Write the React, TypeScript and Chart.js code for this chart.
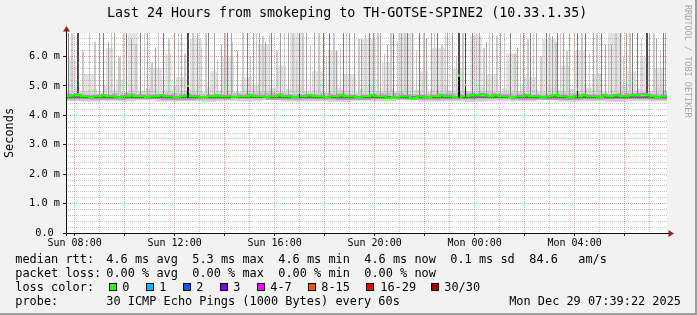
import { useEffect, useRef } from "react";
import { Chart, registerables } from "chart.js";

Chart.register(...registerables);

// ---- time axis: one sample column = 2.4 min, column 0 = Sun 07:39:22 ----
const START_MIN = 459.37;
const STEP_MIN = 2.4;
const X_MAX = 601;
const Y_MAX = 6.8;
const BASE = 4.64;

const hourTicks = [8, 9, 10, 11, 12, 13, 14, 15, 16, 17, 18, 19, 20, 21, 22, 23, 24, 25, 26, 27, 28, 29, 30, 31];
const labelHours = [8, 12, 16, 20, 24, 28];
const xLabels = ["Sun 08:00", "Sun 12:00", "Sun 16:00", "Sun 20:00", "Mon 00:00", "Mon 04:00"];
const yLabelValues = [0, 1, 2, 3, 4, 5, 6];
const yLabels = ["0.0 ", "1.0 m", "2.0 m", "3.0 m", "4.0 m", "5.0 m", "6.0 m"];
const yMinorStep = 0.2;
const yMinorCount = 34;

const chartTitle = "Last 24 Hours from smokeping to TH-GOTSE-SPINE2 (10.33.1.35)";
const rttStats = ["4.6 ms avg", "5.3 ms max", "4.6 ms min", "4.6 ms now", "0.1 ms sd", "84.6", "am/s"];
const lossStats = ["0.00 % avg", "0.00 % max", "0.00 % min", "0.00 % now"];
const lossColors: [string, string][] = [
  ["0", "#26ff00"], ["1", "#00b8ff"], ["2", "#0059ff"], ["3", "#7e00ff"],
  ["4-7", "#ff00ff"], ["8-15", "#ff5500"], ["16-29", "#ff0000"], ["30/30", "#a10000"],
];
const probeText = "30 ICMP Echo Pings (1000 Bytes) every 60s";
const stampText = "Mon Dec 29 07:39:22 2025";

// ---- smoke (ms): [startColumn, widthColumns, top] ----
const darkestSpikes: [number, number, number][] = [
  [11, 2, 7], [121, 2, 7], [392, 2, 7], [399, 1, 7], [580, 2, 7],
];
const darkSpikes: [number, number, number][] = [
  [2, 1, 7], [37, 1, 7], [60, 1, 7], [74, 1, 7], [97, 1, 7],
  [142, 1, 7], [161, 1, 7], [181, 1, 7], [205, 1, 7], [233, 1, 7],
  [257, 1, 7], [263, 1, 7], [277, 1, 7], [303, 1, 7], [327, 1, 7], [341, 1, 7], [353, 1, 7],
  [371, 1, 7], [406, 1, 7], [444, 1, 7], [464, 1, 7],
  [480, 1, 7], [491, 1, 7], [511, 1, 7], [519, 1, 7], [535, 1, 7], [554, 1, 7],
  [566, 1, 7], [571, 1, 7], [597, 1, 7],
];
const midSpikes: [number, number, number][] = [
  [33, 1, 7], [42, 1, 6.5], [48, 1, 7], [65, 1, 6.6], [81, 1, 7], [89, 1, 6.3], [108, 1, 7], [115, 1, 6.8],
  [131, 1, 7], [148, 1, 7], [155, 1, 6.4], [165, 1, 7], [171, 1, 6.2], [187, 1, 7], [193, 1, 7], [199, 1, 6.5], [214, 1, 7],
  [222, 1, 6.9], [240, 1, 7], [248, 1, 7], [270, 1, 6.2], [283, 1, 7], [288, 1, 7], [295, 1, 6.6],
  [307, 1, 7], [314, 1, 7], [321, 1, 6.4], [335, 1, 7], [346, 1, 7], [360, 1, 6.6], [365, 1, 6.8], [381, 1, 7],
  [386, 1, 7], [413, 1, 7], [420, 1, 6.5], [426, 1, 7], [434, 1, 7], [451, 1, 6.3], [457, 1, 7],
  [470, 1, 7], [486, 1, 6.7], [497, 1, 7], [503, 1, 7], [527, 1, 7], [539, 1, 6.4], [545, 1, 6.4], [560, 1, 7],
  [583, 1, 7], [590, 1, 6.6], [599, 1, 7],
];
const lightSpikes: [number, number, number][] = [
  [5, 2, 7], [16, 2, 6.2], [23, 1, 7], [28, 2, 6.5], [45, 1, 7], [52, 3, 6.0], [57, 1, 7], [69, 2, 6.4],
  [78, 1, 7], [85, 2, 5.8], [92, 1, 7], [102, 2, 6.6], [112, 1, 7], [118, 2, 6.1], [126, 2, 7],
  [135, 1, 6.3], [139, 2, 7], [151, 1, 5.9], [158, 2, 7], [166, 1, 6.5], [176, 2, 7], [184, 1, 6.0],
  [190, 1, 7], [196, 2, 6.7], [203, 1, 7], [210, 2, 6.2], [218, 1, 7], [226, 2, 6.8], [230, 1, 5.9],
  [236, 2, 7], [244, 1, 6.4], [252, 2, 7], [260, 1, 6.0], [267, 2, 7], [274, 1, 6.3], [280, 1, 7],
  [292, 2, 6.6], [299, 1, 7], [311, 2, 7], [318, 1, 6.1], [324, 2, 7], [331, 1, 6.5], [338, 2, 7],
  [350, 1, 6.2], [357, 2, 7], [368, 1, 7], [375, 2, 6.4], [379, 1, 7], [390, 1, 6.0], [396, 2, 7],
  [410, 1, 7], [417, 2, 6.3], [423, 1, 7], [430, 2, 6.7], [438, 1, 7], [448, 2, 6.1], [454, 1, 7],
  [461, 2, 6.6], [467, 1, 7], [474, 2, 6.0], [483, 1, 7], [489, 2, 6.5], [494, 1, 7], [500, 2, 6.2],
  [508, 1, 7], [515, 2, 6.8], [523, 1, 6.1], [530, 2, 7], [542, 1, 6.4], [549, 2, 7], [557, 1, 6.0],
  [563, 2, 7], [575, 1, 6.6], [587, 2, 7], [594, 1, 6.2],
];
const clouds: [number, number, number][] = [
  [3, 7, 5.9], [18, 12, 5.4], [40, 7, 6.3], [50, 8, 5.2], [62, 10, 6.8], [84, 12, 5.6], [99, 7, 6.1],
  [110, 10, 5.3], [124, 12, 6.6], [144, 8, 5.5], [156, 12, 6.0], [175, 11, 5.3], [192, 12, 6.4],
  [212, 8, 5.7], [224, 14, 6.8], [246, 12, 5.5], [262, 10, 6.2], [278, 12, 5.4], [296, 14, 6.6],
  [316, 10, 5.8], [332, 16, 6.9], [354, 8, 5.5], [366, 14, 6.3], [386, 12, 5.6], [404, 12, 6.7],
  [420, 12, 5.4], [440, 12, 6.1], [458, 12, 5.3], [476, 14, 6.6], [494, 10, 5.7], [508, 12, 6.2],
  [526, 10, 5.4], [542, 14, 6.8], [560, 10, 5.5], [574, 10, 6.0], [588, 10, 5.6],
];
const blackSpikes: [number, number, number][] = [
  [121, 2, 5.0], [233, 1, 4.77], [392, 2, 5.35], [399, 1, 5.03], [511, 1, 4.86],
];

// ---- step series: [column, value] ----
const lowCloudTop: [number, number][] = [
  [0, 4.85], [8, 4.95], [14, 4.82], [22, 4.9], [31, 4.78], [38, 5.0], [46, 4.86], [55, 4.8], [63, 4.97],
  [72, 4.84], [80, 4.92], [90, 4.8], [98, 4.88], [107, 5.02], [114, 4.83], [123, 4.9], [132, 4.79],
  [140, 4.95], [150, 4.85], [160, 4.9], [168, 4.8], [177, 4.87], [186, 5.0], [194, 4.84], [203, 4.93],
  [212, 4.81], [220, 4.9], [230, 4.96], [238, 4.83], [247, 4.89], [256, 4.8], [265, 4.94], [274, 4.86],
  [283, 4.78], [292, 4.9], [301, 4.98], [310, 4.84], [319, 4.91], [328, 4.8], [337, 4.95], [346, 4.87],
  [355, 4.79], [364, 4.9], [373, 4.99], [382, 4.85], [391, 4.92], [400, 4.82], [409, 4.96], [418, 4.86],
  [427, 4.8], [436, 4.92], [445, 4.84], [454, 4.97], [463, 4.88], [472, 4.8], [481, 4.93], [490, 4.85],
  [499, 4.9], [508, 4.8], [517, 4.94], [526, 4.86], [535, 4.79], [544, 4.91], [553, 4.99], [562, 4.84],
  [571, 4.9], [580, 4.82], [589, 4.95], [598, 4.85],
];
const upperBandTop: [number, number][] = [
  [0, 4.74], [20, 4.72], [45, 4.76], [70, 4.73], [100, 4.75], [130, 4.72], [160, 4.74], [190, 4.77],
  [220, 4.73], [250, 4.75], [280, 4.72], [310, 4.76], [340, 4.73], [370, 4.75], [400, 4.78], [430, 4.74],
  [460, 4.72], [490, 4.75], [520, 4.73], [550, 4.77], [580, 4.74],
];
const lowerLightBottom: [number, number][] = [
  [0, 4.49], [15, 4.47], [35, 4.5], [52, 4.48], [70, 4.51], [90, 4.47], [112, 4.49], [135, 4.46],
  [150, 4.5], [172, 4.48], [195, 4.51], [215, 4.47], [240, 4.49], [262, 4.46], [285, 4.5], [305, 4.48],
  [330, 4.51], [352, 4.47], [375, 4.49], [398, 4.46], [420, 4.5], [445, 4.48], [470, 4.51], [492, 4.47],
  [515, 4.49], [540, 4.46], [560, 4.5], [585, 4.48],
];
const lowerMidBottom: [number, number][] = [
  [0, 4.55], [25, 4.54], [60, 4.56], [95, 4.53], [130, 4.55], [165, 4.57], [200, 4.54], [235, 4.55],
  [270, 4.53], [305, 4.56], [340, 4.54], [375, 4.55], [410, 4.57], [445, 4.54], [480, 4.53], [515, 4.55],
  [550, 4.56], [585, 4.54],
];
const coreBottom: [number, number][] = [[0, 4.595]];
const medianSteps: [number, number][] = [
  [0, 4.66], [5, 4.69], [9, 4.725], [12, 4.69], [15, 4.66], [23, 4.625], [27, 4.66], [36, 4.69], [40, 4.66],
  [49, 4.625], [55, 4.66], [64, 4.69], [68, 4.66], [79, 4.625], [84, 4.66], [93, 4.69], [98, 4.66],
  [108, 4.625], [114, 4.66], [119, 4.69], [124, 4.66], [133, 4.625], [141, 4.66], [150, 4.69], [153, 4.66],
  [166, 4.625], [172, 4.66], [183, 4.69], [187, 4.66], [198, 4.625], [203, 4.66], [211, 4.69], [216, 4.66],
  [226, 4.625], [232, 4.66], [241, 4.69], [246, 4.66], [258, 4.625], [264, 4.66], [273, 4.69], [278, 4.66],
  [289, 4.625], [296, 4.66], [304, 4.69], [309, 4.66], [320, 4.59], [326, 4.625], [334, 4.66], [344, 4.59],
  [351, 4.66], [358, 4.625], [365, 4.66], [374, 4.69], [378, 4.66], [387, 4.625], [395, 4.66], [403, 4.69],
  [414, 4.725], [419, 4.69], [422, 4.66], [427, 4.69], [433, 4.66], [444, 4.625], [450, 4.66], [458, 4.69],
  [463, 4.66], [474, 4.625], [480, 4.66], [486, 4.69], [492, 4.66], [501, 4.625], [508, 4.66], [516, 4.69],
  [521, 4.66], [532, 4.625], [537, 4.69], [541, 4.66], [547, 4.69], [554, 4.66], [562, 4.69], [574, 4.725],
  [581, 4.69], [585, 4.66], [590, 4.625], [595, 4.66],
];

type Pt = { x: number; y: number | null };

function spikeArea(segs: [number, number, number][], base: number): Pt[] {
  const pts: Pt[] = [{ x: 0, y: base }];
  [...segs].sort((a, b) => a[0] - b[0]).forEach(([s, w, top]) => {
    pts.push({ x: s, y: top });
    pts.push({ x: s + w, y: base });
  });
  pts.push({ x: X_MAX, y: base });
  return pts;
}
function stepLine(steps: [number, number][]): Pt[] {
  const pts: Pt[] = steps.map(([x, y]) => ({ x, y }));
  pts.push({ x: X_MAX, y: steps[steps.length - 1][1] });
  return pts;
}
function dots(segs: [number, number, number][]): Pt[] {
  const pts: Pt[] = [];
  segs.forEach(([s, w, v]) => {
    pts.push({ x: s, y: v }, { x: s + w, y: v }, { x: s + w, y: null });
  });
  return pts;
}
function area(label: string, data: Pt[], color: string, order: number, base = BASE) {
  return {
    label, data, order, backgroundColor: color, borderColor: color, borderWidth: 0,
    pointRadius: 0, stepped: true, fill: { value: base },
  };
}

const slotHour = (v: number) => Math.round((START_MIN + v * STEP_MIN) / 60);
const isIntY = (v: number) => Math.abs(v - Math.round(v)) < 1e-6;

const GRID_RED = "rgba(222,80,80,0.55)";
const GRID_GRAY = "rgba(143,143,143,0.55)";
const MONO = '"DejaVu Sans Mono", monospace';

const rrdPlugin = {
  id: "rrdFrame",
  beforeDraw(chart: any) {
    const { ctx, chartArea: a } = chart;
    ctx.save();
    ctx.fillStyle = "#ffffff";
    ctx.fillRect(a.left, a.top, a.right - a.left, a.bottom - a.top);
    ctx.restore();
  },
  afterDraw(chart: any) {
    const { ctx, chartArea: a } = chart;
    const x0 = Math.round(a.left) + 0.5;
    const y0 = Math.round(a.bottom) + 0.5;
    ctx.save();
    ctx.lineWidth = 1;
    ctx.strokeStyle = "#111";
    ctx.beginPath();
    ctx.moveTo(a.left - 3, y0);
    ctx.lineTo(a.right + 2, y0);
    ctx.moveTo(x0, a.bottom + 3);
    ctx.lineTo(x0, a.top - 2);
    ctx.stroke();
    ctx.fillStyle = "#9b1c1c";
    ctx.beginPath();
    ctx.moveTo(x0, a.top - 7);
    ctx.lineTo(x0 + 3.5, a.top - 1.5);
    ctx.lineTo(x0 - 3.5, a.top - 1.5);
    ctx.closePath();
    ctx.fill();
    ctx.beginPath();
    ctx.moveTo(a.right + 7, y0);
    ctx.lineTo(a.right + 1.5, y0 - 3.5);
    ctx.lineTo(a.right + 1.5, y0 + 3.5);
    ctx.closePath();
    ctx.fill();
    ctx.restore();
  },
};

export default function App() {
  const ref = useRef<HTMLCanvasElement>(null);

  useEffect(() => {
    const yTicks: { value: number }[] = [];
    for (let i = 0; i < yMinorCount; i++) yTicks.push({ value: Math.round(i * yMinorStep * 10) / 10 });
    const xTicks = hourTicks.map((h) => ({ value: (h * 60 - START_MIN) / STEP_MIN }));

    const datasets: any[] = [
      { label: "loss dots", data: dots(blackSpikes), order: 1, borderColor: "#26ff00", borderWidth: 2, pointRadius: 0, stepped: true, fill: false, borderCapStyle: "butt" },
      area("median high", spikeArea(blackSpikes, 4.6), "#111111", 2, 4.6),
      { label: "median rtt", data: stepLine(medianSteps), order: 3, borderColor: "#26ff00", borderWidth: 2, pointRadius: 0, stepped: true, fill: false, borderCapStyle: "butt" },
      area("core", stepLine(coreBottom), "#4a4a4a", 4),
      area("lower mid", stepLine(lowerMidBottom), "#9c9c9c", 5),
      area("lower light", stepLine(lowerLightBottom), "#cecece", 6),
      area("darkest spikes", spikeArea(darkestSpikes, BASE), "#4a4a4a", 7),
      area("dark spikes", spikeArea(darkSpikes, BASE), "#7c7c7c", 8),
      area("mid spikes", spikeArea(midSpikes, BASE), "#a4a4a4", 9),
      area("light spikes", spikeArea(lightSpikes, BASE), "#cacaca", 10),
      area("upper band", stepLine(upperBandTop), "#bababa", 11),
      area("low cloud", stepLine(lowCloudTop), "#dadada", 12),
      area("clouds", spikeArea(clouds, BASE), "#e3e3e3", 13),
    ];

    const chart = new Chart(ref.current as HTMLCanvasElement, {
      type: "line",
      data: { datasets },
      plugins: [rrdPlugin],
      options: {
        animation: false,
        responsive: false,
        devicePixelRatio: 1,
        events: [],
        layout: { padding: { left: 0, right: 30, top: 33, bottom: 62 } },
        plugins: { legend: { display: false }, tooltip: { enabled: false }, title: { display: false } },
        scales: {
          x: {
            type: "linear",
            min: 0,
            max: X_MAX,
            afterBuildTicks: (s: any) => { s.ticks = xTicks.map((t) => ({ ...t })); },
            afterFit: (s: any) => { s.height = 20; },
            grid: {
              z: 1,
              lineWidth: 1,
              color: (c: any) => (slotHour(c.tick.value) % 2 === 0 ? GRID_RED : GRID_GRAY),
              tickLength: 3,
              tickColor: (c: any) => (slotHour(c.tick.value) % 2 === 0 ? "#222" : "rgba(0,0,0,0)"),
            },
            border: { display: false, dash: [1, 1] },
            ticks: {
              autoSkip: false,
              maxRotation: 0,
              padding: 1,
              color: "#000",
              font: { family: MONO, size: 10 },
              callback: (v: any) => {
                const idx = labelHours.indexOf(slotHour(Number(v)));
                return idx >= 0 ? xLabels[idx] : "";
              },
            },
          },
          y: {
            type: "linear",
            min: 0,
            max: Y_MAX,
            afterBuildTicks: (s: any) => { s.ticks = yTicks.map((t) => ({ ...t })); },
            afterFit: (s: any) => { s.width = 66; },
            grid: {
              z: 1,
              lineWidth: 1,
              color: (c: any) => (isIntY(c.tick.value) ? GRID_RED : GRID_GRAY),
              tickLength: 3,
              tickColor: (c: any) => (isIntY(c.tick.value) ? "#222" : "rgba(0,0,0,0)"),
            },
            border: { display: false, dash: [1, 1] },
            title: {
              display: true,
              text: "Seconds",
              color: "#000",
              font: { family: MONO, size: 11.9 },
              padding: { top: 3, bottom: 0 },
            },
            ticks: {
              autoSkip: false,
              padding: 3,
              color: "#000",
              font: { family: MONO, size: 10.3 },
              callback: (v: any) => {
                const n = Number(v);
                if (!isIntY(n)) return "";
                const idx = yLabelValues.indexOf(Math.round(n));
                return idx >= 0 ? yLabels[idx] : "";
              },
            },
          },
        },
      },
    } as any);
    return () => chart.destroy();
  }, []);

  const row: any = { position: "absolute", fontSize: 11.9, lineHeight: "14px", whiteSpace: "pre" };
  const cols = [106.3, 192.3, 278.3, 364.3, 450.3, 529.3, 578.3];
  const boxX = [108.5, 145.5, 182.5, 219.5, 256.5, 307.5, 365.5, 430.5];
  const boxLabelX = [122.3, 159.3, 196.3, 233.3, 270.3, 321.3, 380.3, 444.3];

  return (
    <div style={{ position: "fixed", left: 0, top: 0, width: 697, height: 315, background: "#f2f2f2", overflow: "hidden", fontFamily: MONO, color: "#000" }}>
      <canvas ref={ref} width={697} height={315} style={{ position: "absolute", left: 0, top: 0 }} />
      <span style={{ position: "absolute", left: 107, top: 5.4, fontSize: 13.3, lineHeight: "16px", whiteSpace: "pre" }}>{chartTitle}</span>
      <span style={{ position: "absolute", left: 682, top: 5, fontSize: 8.5, lineHeight: "11px", writingMode: "vertical-rl", color: "#a8a8a8", whiteSpace: "pre" }}>RRDTOOL / TOBI OETIKER</span>

      <span style={{ ...row, left: 15.3, top: 252 }}>median rtt:</span>
      {rttStats.map((t, i) => (
        <span key={"r" + i} style={{ ...row, left: cols[i], top: 252 }}>{t}</span>
      ))}
      <span style={{ ...row, left: 15.3, top: 266 }}>packet loss:</span>
      {lossStats.map((t, i) => (
        <span key={"l" + i} style={{ ...row, left: cols[i], top: 266 }}>{t}</span>
      ))}
      <span style={{ ...row, left: 15.3, top: 280 }}>loss color:</span>
      {lossColors.map(([t, c], i) => (
        <span key={"c" + i}>
          <span style={{ position: "absolute", left: boxX[i], top: 283, width: 8, height: 8, boxSizing: "border-box", border: "1px solid #000", background: c }} />
          <span style={{ ...row, left: boxLabelX[i], top: 280 }}>{t}</span>
        </span>
      ))}
      <span style={{ ...row, left: 15.3, top: 293.5 }}>probe:</span>
      <span style={{ ...row, left: cols[0], top: 293.5 }}>{probeText}</span>
      <span style={{ ...row, right: 16, top: 293.5 }}>{stampText}</span>

      <div style={{ position: "absolute", left: 695, top: 0, width: 2, height: 315, background: "#9e9e9e" }} />
      <div style={{ position: "absolute", left: 0, top: 313, width: 697, height: 2, background: "#9e9e9e" }} />
    </div>
  );
}
